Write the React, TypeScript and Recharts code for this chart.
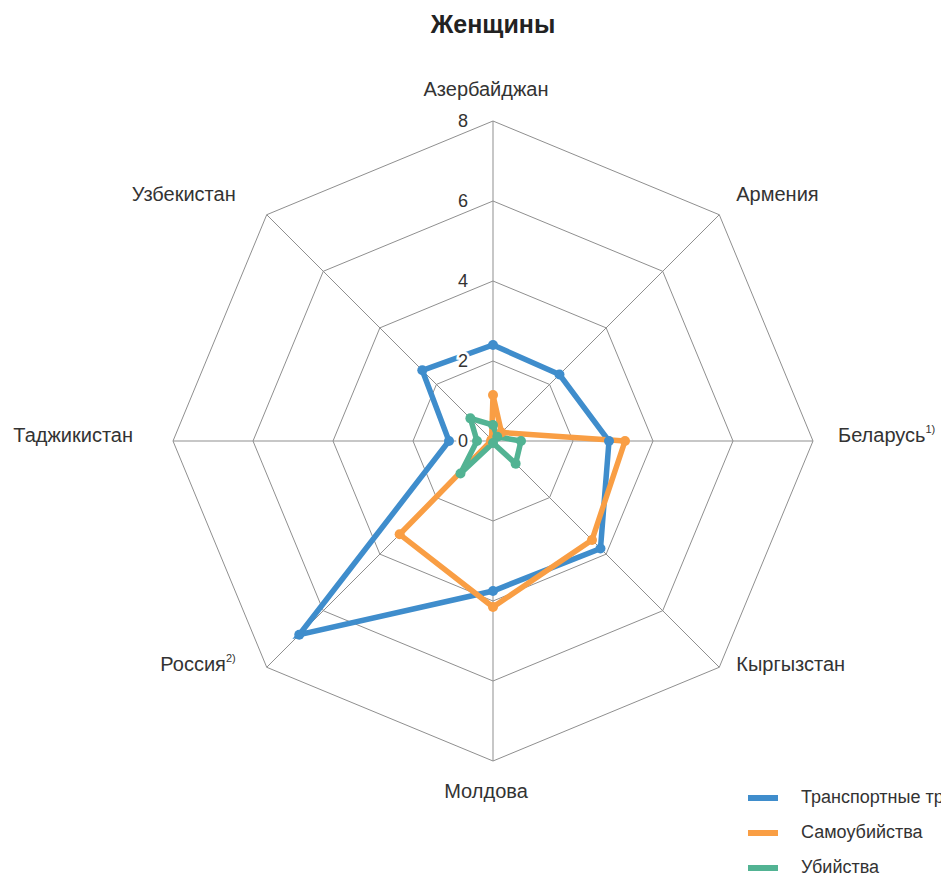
import React from 'react'
import { RadarChart, Radar, PolarGrid, PolarAngleAxis, PolarRadiusAxis, Legend } from 'recharts'

const countries = ['Азербайджан', 'Армения', 'Беларусь', 'Кыргызстан', 'Молдова', 'Россия', 'Таджикистан', 'Узбекистан']
const notes = ['', '', '1)', '', '', '2)', '', '']
const transport = [2.4, 2.35, 2.9, 3.8, 3.75, 6.85, 1.1, 2.5]
const suicide = [1.15, 0.3, 3.3, 3.5, 4.15, 3.3, 0.05, 0.05]
const homicide = [0.4, 0.15, 0.7, 0.8, 0.05, 1.15, 0.4, 0.8]
const radiusTicks = [0, 2, 4, 6, 8]

const seriesList = [
    { key: 'transport', name: 'Транспортные травмы', color: '#3f8dcc' },
    { key: 'suicide', name: 'Самоубийства', color: '#f99e44' },
    { key: 'homicide', name: 'Убийства', color: '#52b393' },
]

const data = countries.map((c, i) => ({
    country: c,
    transport: transport[i],
    suicide: suicide[i],
    homicide: homicide[i],
}))

// full page 941x878, body margin removed below
const W = 941
const H = 878
const CX = 493
const CY = 441
const R = 320
const FONT = '"Liberation Sans", Arial, sans-serif'

function AngleTick(props: any) {
    const { payload } = props
    const a = (payload.coordinate * Math.PI) / 180
    const cos = Math.cos(a)
    const sin = Math.sin(a)
    const vx = CX + R * cos
    const vy = CY - R * sin
    let x = vx - 7
    let anchor = 'middle'
    if (cos > 0.1) { x = vx + (cos > 0.9 ? 25 : 17); anchor = 'start' }
    else if (cos < -0.1) { x = vx - (cos < -0.9 ? 40 : 31); anchor = 'end' }
    let y = vy + 1
    if (sin > 0.9) y = vy - 25
    else if (sin < -0.9) y = vy + 37
    else if (sin > 0.1) y = vy - 14
    else if (sin < -0.1) y = vy + 4
    const idx = countries.indexOf(payload.value)
    const note = idx >= 0 ? notes[idx] : ''
    return (
        <text x={x} y={y} textAnchor={anchor} fontSize={20} fill="#333" fontFamily={FONT}>
            {payload.value}
            {note && <tspan fontSize={11} dy={-9}>{note}</tspan>}
        </text>
    )
}

function RadiusTick(props: any) {
    const { x, y, payload } = props
    return (
        <text x={x - 25} y={y} textAnchor="end" dominantBaseline="central" fontSize={18} fill="#333"
              fontFamily={FONT} stroke="#fff" strokeWidth={5} paintOrder="stroke">
            {payload.value}
        </text>
    )
}

function LegendBox() {
    return (
        <div style={{ fontFamily: FONT, fontSize: 18, color: '#333', whiteSpace: 'nowrap' }}>
            {seriesList.map(s => (
                <div key={s.key} style={{ height: 35, display: 'flex', alignItems: 'center' }}>
                    <span style={{ display: 'inline-block', width: 30, height: 6, background: s.color, marginRight: 23 }}/>
                    <span>{s.name}</span>
                </div>
            ))}
        </div>
    )
}

const makeDot = (color: string) => (p: any) => (
    <circle key={p.index} cx={p.cx} cy={p.cy} r={5} fill={color} stroke="none"/>
)

export default function App() {
    return (
        <div style={{ position: 'relative', width: W, height: H, overflow: 'hidden', background: '#fff' }}>
            <style>{'body{margin:0}'}</style>
            <div style={{ position: 'absolute', left: 0, top: 9, width: 2 * CX, textAlign: 'center',
                fontFamily: FONT, fontWeight: 'bold', fontSize: 25, lineHeight: '30px', color: '#222' }}>
                Женщины
            </div>
            <RadarChart width={W} height={H} data={data} cx={CX} cy={CY} outerRadius={R}
                        margin={{ top: 0, right: 0, bottom: 0, left: 0 }}>
                <PolarGrid gridType="polygon" stroke="#8f8f8f" strokeWidth={1}/>
                <PolarAngleAxis dataKey="country" tick={<AngleTick/>} tickLine={false} axisLine={false}/>
                {seriesList.map(s => (
                    <Radar key={s.key} name={s.name} dataKey={s.key} stroke={s.color} strokeWidth={5.5}
                           fill="none" fillOpacity={0} isAnimationActive={false}
                           dot={makeDot(s.color)}/>
                ))}
                <PolarRadiusAxis angle={90} domain={[0, 8]} ticks={radiusTicks} tickCount={5} orientation="left"
                                 axisLine={false} tickLine={false} tick={<RadiusTick/>}/>
                <Legend content={<LegendBox/>}
                        wrapperStyle={{ left: 748, top: 780, bottom: 'auto', width: 300 }}/>
            </RadarChart>
        </div>
    )
}
